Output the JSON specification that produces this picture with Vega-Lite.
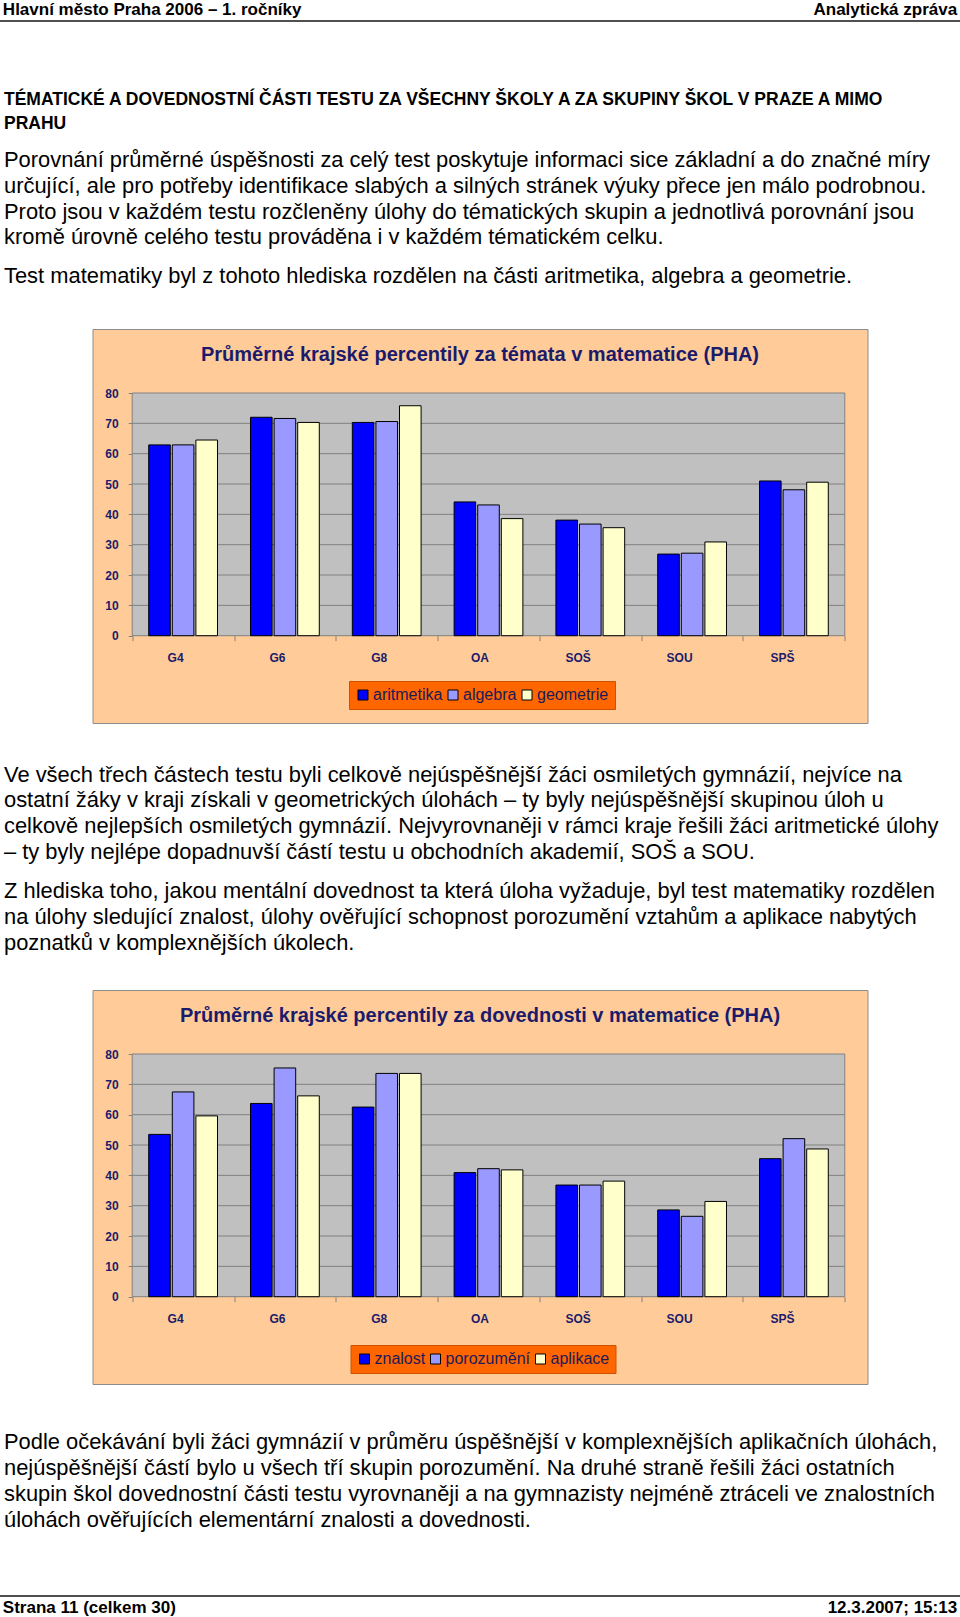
{
  "$schema": "https://vega.github.io/schema/vega-lite/v6.json",
  "background": "#FFFFFF",
  "padding": 0,
  "spacing": 0,
  "bounds": "flush",
  "center": true,
  "config": {
    "view": {"stroke": null},
    "text": {"font": "Liberation Sans", "color": "#000000"}
  },
  "resolve": {
    "scale": {"x": "independent", "y": "independent", "color": "independent", "xOffset": "independent"},
    "legend": {"color": "independent"}
  },
  "datasets": {
    "text": [
      {"blok": "hlavicka", "radek": 1, "text": "Hlavní město Praha 2006 – 1. ročníky"},
      {"blok": "sekce", "radek": 1, "text": "Analytická zpráva"},
      {"blok": "nadpis", "radek": 1, "text": "TÉMATICKÉ A DOVEDNOSTNÍ ČÁSTI TESTU ZA VŠECHNY ŠKOLY A ZA SKUPINY ŠKOL V PRAZE A MIMO"},
      {"blok": "nadpis", "radek": 2, "text": "PRAHU"},
      {"blok": "odstavec1", "radek": 1, "text": "Porovnání průměrné úspěšnosti za celý test poskytuje informaci sice základní a do značné míry"},
      {"blok": "odstavec1", "radek": 2, "text": "určující, ale pro potřeby identifikace slabých a silných stránek výuky přece jen málo podrobnou."},
      {"blok": "odstavec1", "radek": 3, "text": "Proto jsou v každém testu rozčleněny úlohy do tématických skupin a jednotlivá porovnání jsou"},
      {"blok": "odstavec1", "radek": 4, "text": "kromě úrovně celého testu prováděna i v každém tématickém celku."},
      {"blok": "odstavec2", "radek": 1, "text": "Test matematiky byl z tohoto hlediska rozdělen na části aritmetika, algebra a geometrie."},
      {"blok": "odstavec3", "radek": 1, "text": "Ve všech třech částech testu byli celkově nejúspěšnější žáci osmiletých gymnázií, nejvíce na"},
      {"blok": "odstavec3", "radek": 2, "text": "ostatní žáky v kraji získali v geometrických úlohách – ty byly nejúspěšnější skupinou úloh u"},
      {"blok": "odstavec3", "radek": 3, "text": "celkově nejlepších osmiletých gymnázií. Nejvyrovnaněji v rámci kraje řešili žáci aritmetické úlohy"},
      {"blok": "odstavec3", "radek": 4, "text": "– ty byly nejlépe dopadnuvší částí testu u obchodních akademií, SOŠ a SOU."},
      {"blok": "odstavec4", "radek": 1, "text": "Z hlediska toho, jakou mentální dovednost ta která úloha vyžaduje, byl test matematiky rozdělen"},
      {"blok": "odstavec4", "radek": 2, "text": "na úlohy sledující znalost, úlohy ověřující schopnost porozumění vztahům a aplikace nabytých"},
      {"blok": "odstavec4", "radek": 3, "text": "poznatků v komplexnějších úkolech."},
      {"blok": "odstavec5", "radek": 1, "text": "Podle očekávání byli žáci gymnázií v průměru úspěšnější v komplexnějších aplikačních úlohách,"},
      {"blok": "odstavec5", "radek": 2, "text": "nejúspěšnější částí bylo u všech tří skupin porozumění. Na druhé straně řešili žáci ostatních"},
      {"blok": "odstavec5", "radek": 3, "text": "skupin škol dovednostní části testu vyrovnaněji a na gymnazisty nejméně ztráceli ve znalostních"},
      {"blok": "odstavec5", "radek": 4, "text": "úlohách ověřujících elementární znalosti a dovednosti."},
      {"blok": "strana", "radek": 1, "text": "Strana 11 (celkem 30)"},
      {"blok": "datum", "radek": 1, "text": "12.3.2007; 15:13"}
    ],
    "temata": [
      {"skupina": "G4", "cast": "aritmetika", "percentil": 62.9},
      {"skupina": "G4", "cast": "algebra", "percentil": 62.9},
      {"skupina": "G4", "cast": "geometrie", "percentil": 64.5},
      {"skupina": "G6", "cast": "aritmetika", "percentil": 72.0},
      {"skupina": "G6", "cast": "algebra", "percentil": 71.6},
      {"skupina": "G6", "cast": "geometrie", "percentil": 70.3},
      {"skupina": "G8", "cast": "aritmetika", "percentil": 70.3},
      {"skupina": "G8", "cast": "algebra", "percentil": 70.6},
      {"skupina": "G8", "cast": "geometrie", "percentil": 75.8},
      {"skupina": "OA", "cast": "aritmetika", "percentil": 44.1},
      {"skupina": "OA", "cast": "algebra", "percentil": 43.1},
      {"skupina": "OA", "cast": "geometrie", "percentil": 38.6},
      {"skupina": "SOŠ", "cast": "aritmetika", "percentil": 38.1},
      {"skupina": "SOŠ", "cast": "algebra", "percentil": 36.8},
      {"skupina": "SOŠ", "cast": "geometrie", "percentil": 35.6},
      {"skupina": "SOU", "cast": "aritmetika", "percentil": 26.9},
      {"skupina": "SOU", "cast": "algebra", "percentil": 27.2},
      {"skupina": "SOU", "cast": "geometrie", "percentil": 30.9},
      {"skupina": "SPŠ", "cast": "aritmetika", "percentil": 51.0},
      {"skupina": "SPŠ", "cast": "algebra", "percentil": 48.1},
      {"skupina": "SPŠ", "cast": "geometrie", "percentil": 50.6}
    ],
    "dovednosti": [
      {"skupina": "G4", "cast": "znalost", "percentil": 53.5},
      {"skupina": "G4", "cast": "porozumění", "percentil": 67.5},
      {"skupina": "G4", "cast": "aplikace", "percentil": 59.6},
      {"skupina": "G6", "cast": "znalost", "percentil": 63.7},
      {"skupina": "G6", "cast": "porozumění", "percentil": 75.4},
      {"skupina": "G6", "cast": "aplikace", "percentil": 66.2},
      {"skupina": "G8", "cast": "znalost", "percentil": 62.5},
      {"skupina": "G8", "cast": "porozumění", "percentil": 73.6},
      {"skupina": "G8", "cast": "aplikace", "percentil": 73.6},
      {"skupina": "OA", "cast": "znalost", "percentil": 40.9},
      {"skupina": "OA", "cast": "porozumění", "percentil": 42.2},
      {"skupina": "OA", "cast": "aplikace", "percentil": 41.8},
      {"skupina": "SOŠ", "cast": "znalost", "percentil": 36.8},
      {"skupina": "SOŠ", "cast": "porozumění", "percentil": 36.8},
      {"skupina": "SOŠ", "cast": "aplikace", "percentil": 38.1},
      {"skupina": "SOU", "cast": "znalost", "percentil": 28.6},
      {"skupina": "SOU", "cast": "porozumění", "percentil": 26.5},
      {"skupina": "SOU", "cast": "aplikace", "percentil": 31.4},
      {"skupina": "SPŠ", "cast": "znalost", "percentil": 45.5},
      {"skupina": "SPŠ", "cast": "porozumění", "percentil": 52.1},
      {"skupina": "SPŠ", "cast": "aplikace", "percentil": 48.7}
    ]
  },
  "vconcat": [
    {
      "width": 960, "height": 20,
      "data": {"name": "text"},
      "layer": [
        {
          "transform": [{"filter": "datum.blok === 'hlavicka'"}],
          "mark": {"type": "text", "align": "left", "baseline": "middle", "font": "Liberation Sans", "fontWeight": "bold", "fontSize": 17},
          "encoding": {
            "x": {"datum": "L", "type": "nominal", "scale": {"type": "point", "domain": ["L", "R"], "padding": 0.003}, "axis": null},
            "y": {"field": "radek", "type": "ordinal", "scale": {"type": "band", "paddingInner": 0, "paddingOuter": 0}, "axis": null},
            "text": {"field": "text"}
          }
        },
        {
          "transform": [{"filter": "datum.blok === 'sekce'"}],
          "mark": {"type": "text", "align": "right", "baseline": "middle", "font": "Liberation Sans", "fontWeight": "bold", "fontSize": 17},
          "encoding": {
            "x": {"datum": "R", "type": "nominal", "axis": null},
            "y": {"field": "radek", "type": "ordinal", "axis": null},
            "text": {"field": "text"}
          }
        }
      ]
    },
    {
      "width": 960, "height": 2,
      "view": {"fill": "#505050", "stroke": null},
      "data": {"values": []},
      "mark": "text",
      "encoding": {}
    },
    {
      "width": 960, "height": 111.5,
      "data": {"name": "text"},
      "transform": [{"filter": "datum.blok === 'nadpis'"}],
      "mark": {"type": "text", "align": "left", "baseline": "middle", "font": "Liberation Sans", "fontWeight": "bold", "fontSize": 17.5},
      "encoding": {
        "x": {"datum": "L", "type": "nominal", "scale": {"type": "point", "domain": ["L", "R"], "padding": 0.0042}, "axis": null},
        "y": {"field": "radek", "type": "ordinal", "scale": {"type": "band", "paddingInner": 0, "paddingOuter": 0, "range": [66.1, 113.5]}, "axis": null},
        "text": {"field": "text"}
      }
    },
    {
      "width": 960, "height": 116.5,
      "data": {"name": "text"},
      "transform": [{"filter": "datum.blok === 'odstavec1'"}],
      "mark": {"type": "text", "align": "left", "baseline": "middle", "font": "Liberation Sans", "fontSize": 21.9},
      "encoding": {
        "x": {"datum": "L", "type": "nominal", "scale": {"type": "point", "domain": ["L", "R"], "padding": 0.0042}, "axis": null},
        "y": {"field": "radek", "type": "ordinal", "scale": {"type": "band", "paddingInner": 0, "paddingOuter": 0, "range": [13.1, 116.3]}, "axis": null},
        "text": {"field": "text"}
      }
    },
    {
      "width": 960, "height": 77.5,
      "data": {"name": "text"},
      "transform": [{"filter": "datum.blok === 'odstavec2'"}],
      "mark": {"type": "text", "align": "left", "baseline": "middle", "font": "Liberation Sans", "fontSize": 21.9},
      "encoding": {
        "x": {"datum": "L", "type": "nominal", "scale": {"type": "point", "domain": ["L", "R"], "padding": 0.0042}, "axis": null},
        "y": {"field": "radek", "type": "ordinal", "scale": {"type": "band", "paddingInner": 0, "paddingOuter": 0, "range": [12.2, 38]}, "axis": null},
        "text": {"field": "text"}
      }
    },
    {
      "width": 775, "height": 394,
      "view": {"fill": "#FFCC99", "stroke": "#8C8C8C", "strokeWidth": 1},
      "title": {"text": "Průměrné krajské percentily za témata v matematice (PHA)", "anchor": "middle", "frame": "group", "offset": -36, "font": "Liberation Sans", "fontSize": 20, "fontWeight": "bold", "color": "#1B1B6B"},
      "layer": [
        {
          "data": {"name": "temata"},
          "transform": [{"aggregate": [{"op": "count", "as": "pocet"}]}],
          "mark": {"type": "rect", "fill": "#C0C0C0", "stroke": "#808080", "strokeWidth": 1},
          "encoding": {
            "x": {"datum": "G4", "type": "nominal", "bandPosition": 0, "title": null},
            "x2": {"datum": "SPŠ", "bandPosition": 1},
            "y": {"datum": 0, "type": "quantitative", "title": null},
            "y2": {"datum": 80}
          }
        },
        {
          "data": {"values": [{"uroven": 10}, {"uroven": 20}, {"uroven": 30}, {"uroven": 40}, {"uroven": 50}, {"uroven": 60}, {"uroven": 70}]},
          "mark": {"type": "rule", "color": "#808080", "strokeWidth": 1},
          "encoding": {
            "x": {"datum": "G4", "type": "nominal", "bandPosition": 0, "title": null},
            "x2": {"datum": "SPŠ", "bandPosition": 1},
            "y": {"field": "uroven", "type": "quantitative", "title": null}
          }
        },
        {
          "data": {"name": "temata"},
          "mark": {"type": "bar", "stroke": "#000000", "strokeWidth": 1},
          "encoding": {
            "x": {"field": "skupina", "type": "nominal", "title": null,
              "scale": {"domain": ["G4", "G6", "G8", "OA", "SOŠ", "SOU", "SPŠ"], "range": [39.7, 752.3], "paddingInner": 0, "paddingOuter": 0},
              "axis": {"offset": -87.3, "labelAngle": 0, "domain": false, "grid": false, "tickBand": "extent", "tickSize": 5, "tickColor": "#808080", "labelPadding": 17, "labelFont": "Liberation Sans", "labelFontSize": 12, "labelFontWeight": "bold", "labelColor": "#1B1B6B"}},
            "xOffset": {"field": "cast", "type": "nominal", "scale": {"domain": ["aritmetika", "algebra", "geometrie"], "paddingInner": 0.085, "paddingOuter": 0.7}},
            "y": {"field": "percentil", "type": "quantitative", "title": null,
              "scale": {"domain": [0, 80], "range": [306.7, 64], "nice": false},
              "axis": {"offset": -39.7, "values": [0, 10, 20, 30, 40, 50, 60, 70, 80], "domain": false, "grid": false, "tickSize": 4, "tickColor": "#808080", "labelPadding": 10, "labelFont": "Liberation Sans", "labelFontSize": 12, "labelFontWeight": "bold", "labelColor": "#1B1B6B"}},
            "color": {"field": "cast", "type": "nominal",
              "scale": {"domain": ["aritmetika", "algebra", "geometrie"], "range": ["#0000FF", "#9999FF", "#FFFFCC"]},
              "legend": {"orient": "none", "legendX": 256.5, "legendY": 352, "direction": "horizontal", "title": null, "symbolType": "square", "symbolSize": 100, "symbolStrokeColor": "#000000", "symbolStrokeWidth": 1, "symbolOpacity": 1, "labelFont": "Liberation Sans", "labelFontSize": 16, "labelColor": "#1B1B5B", "labelOffset": 2, "columnPadding": 2, "padding": 6, "fillColor": "#FF6600", "strokeColor": "#D05000"}}
          }
        }
      ]
    },
    {
      "width": 960, "height": 143,
      "data": {"name": "text"},
      "transform": [{"filter": "datum.blok === 'odstavec3'"}],
      "mark": {"type": "text", "align": "left", "baseline": "middle", "font": "Liberation Sans", "fontSize": 21.9},
      "encoding": {
        "x": {"datum": "L", "type": "nominal", "scale": {"type": "point", "domain": ["L", "R"], "padding": 0.0042}, "axis": null},
        "y": {"field": "radek", "type": "ordinal", "scale": {"type": "band", "paddingInner": 0, "paddingOuter": 0, "range": [38.8, 141.8]}, "axis": null},
        "text": {"field": "text"}
      }
    },
    {
      "width": 960, "height": 123.5,
      "data": {"name": "text"},
      "transform": [{"filter": "datum.blok === 'odstavec4'"}],
      "mark": {"type": "text", "align": "left", "baseline": "middle", "font": "Liberation Sans", "fontSize": 21.9},
      "encoding": {
        "x": {"datum": "L", "type": "nominal", "scale": {"type": "point", "domain": ["L", "R"], "padding": 0.0042}, "axis": null},
        "y": {"field": "radek", "type": "ordinal", "scale": {"type": "band", "paddingInner": 0, "paddingOuter": 0, "range": [12.3, 89.7]}, "axis": null},
        "text": {"field": "text"}
      }
    },
    {
      "width": 775, "height": 394,
      "view": {"fill": "#FFCC99", "stroke": "#8C8C8C", "strokeWidth": 1},
      "title": {"text": "Průměrné krajské percentily za dovednosti v matematice (PHA)", "anchor": "middle", "frame": "group", "offset": -36, "font": "Liberation Sans", "fontSize": 20, "fontWeight": "bold", "color": "#1B1B6B"},
      "layer": [
        {
          "data": {"name": "dovednosti"},
          "transform": [{"aggregate": [{"op": "count", "as": "pocet"}]}],
          "mark": {"type": "rect", "fill": "#C0C0C0", "stroke": "#808080", "strokeWidth": 1},
          "encoding": {
            "x": {"datum": "G4", "type": "nominal", "bandPosition": 0, "title": null},
            "x2": {"datum": "SPŠ", "bandPosition": 1},
            "y": {"datum": 0, "type": "quantitative", "title": null},
            "y2": {"datum": 80}
          }
        },
        {
          "data": {"values": [{"uroven": 10}, {"uroven": 20}, {"uroven": 30}, {"uroven": 40}, {"uroven": 50}, {"uroven": 60}, {"uroven": 70}]},
          "mark": {"type": "rule", "color": "#808080", "strokeWidth": 1},
          "encoding": {
            "x": {"datum": "G4", "type": "nominal", "bandPosition": 0, "title": null},
            "x2": {"datum": "SPŠ", "bandPosition": 1},
            "y": {"field": "uroven", "type": "quantitative", "title": null}
          }
        },
        {
          "data": {"name": "dovednosti"},
          "mark": {"type": "bar", "stroke": "#000000", "strokeWidth": 1},
          "encoding": {
            "x": {"field": "skupina", "type": "nominal", "title": null,
              "scale": {"domain": ["G4", "G6", "G8", "OA", "SOŠ", "SOU", "SPŠ"], "range": [39.7, 752.3], "paddingInner": 0, "paddingOuter": 0},
              "axis": {"offset": -87.3, "labelAngle": 0, "domain": false, "grid": false, "tickBand": "extent", "tickSize": 5, "tickColor": "#808080", "labelPadding": 17, "labelFont": "Liberation Sans", "labelFontSize": 12, "labelFontWeight": "bold", "labelColor": "#1B1B6B"}},
            "xOffset": {"field": "cast", "type": "nominal", "scale": {"domain": ["znalost", "porozumění", "aplikace"], "paddingInner": 0.085, "paddingOuter": 0.7}},
            "y": {"field": "percentil", "type": "quantitative", "title": null,
              "scale": {"domain": [0, 80], "range": [306.7, 64], "nice": false},
              "axis": {"offset": -39.7, "values": [0, 10, 20, 30, 40, 50, 60, 70, 80], "domain": false, "grid": false, "tickSize": 4, "tickColor": "#808080", "labelPadding": 10, "labelFont": "Liberation Sans", "labelFontSize": 12, "labelFontWeight": "bold", "labelColor": "#1B1B6B"}},
            "color": {"field": "cast", "type": "nominal",
              "scale": {"domain": ["znalost", "porozumění", "aplikace"], "range": ["#0000FF", "#9999FF", "#FFFFCC"]},
              "legend": {"orient": "none", "legendX": 258, "legendY": 355, "direction": "horizontal", "title": null, "symbolType": "square", "symbolSize": 100, "symbolStrokeColor": "#000000", "symbolStrokeWidth": 1, "symbolOpacity": 1, "labelFont": "Liberation Sans", "labelFontSize": 16, "labelColor": "#1B1B5B", "labelOffset": 2, "columnPadding": 2, "padding": 6, "fillColor": "#FF6600", "strokeColor": "#D05000"}}
          }
        }
      ]
    },
    {
      "width": 960, "height": 210.5,
      "data": {"name": "text"},
      "transform": [{"filter": "datum.blok === 'odstavec5'"}],
      "mark": {"type": "text", "align": "left", "baseline": "middle", "font": "Liberation Sans", "fontSize": 21.9},
      "encoding": {
        "x": {"datum": "L", "type": "nominal", "scale": {"type": "point", "domain": ["L", "R"], "padding": 0.0042}, "axis": null},
        "y": {"field": "radek", "type": "ordinal", "scale": {"type": "band", "paddingInner": 0, "paddingOuter": 0, "range": [45.4, 148.6]}, "axis": null},
        "text": {"field": "text"}
      }
    },
    {
      "width": 960, "height": 2,
      "view": {"fill": "#505050", "stroke": null},
      "data": {"values": []},
      "mark": "text",
      "encoding": {}
    },
    {
      "width": 960, "height": 22.5,
      "data": {"name": "text"},
      "layer": [
        {
          "transform": [{"filter": "datum.blok === 'strana'"}],
          "mark": {"type": "text", "align": "left", "baseline": "middle", "font": "Liberation Sans", "fontWeight": "bold", "fontSize": 17},
          "encoding": {
            "x": {"datum": "L", "type": "nominal", "scale": {"type": "point", "domain": ["L", "R"], "padding": 0.003}, "axis": null},
            "y": {"field": "radek", "type": "ordinal", "scale": {"type": "band", "paddingInner": 0, "paddingOuter": 0}, "axis": null},
            "text": {"field": "text"}
          }
        },
        {
          "transform": [{"filter": "datum.blok === 'datum'"}],
          "mark": {"type": "text", "align": "right", "baseline": "middle", "font": "Liberation Sans", "fontWeight": "bold", "fontSize": 17},
          "encoding": {
            "x": {"datum": "R", "type": "nominal", "axis": null},
            "y": {"field": "radek", "type": "ordinal", "axis": null},
            "text": {"field": "text"}
          }
        }
      ]
    }
  ]
}
